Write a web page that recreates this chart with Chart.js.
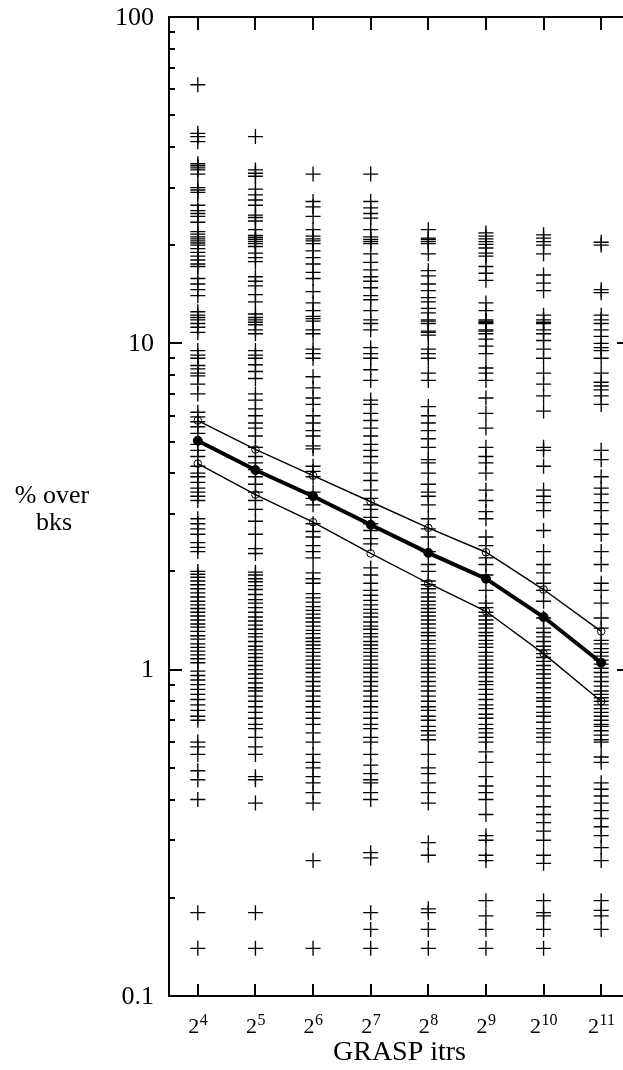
<!DOCTYPE html>
<html>
<head>
<meta charset="utf-8">
<script src="https://cdn.jsdelivr.net/npm/chart.js@4.4.0/dist/chart.umd.min.js"></script>
<style>
  html, body { margin: 0; padding: 0; background: #fff; overflow: hidden; }
  canvas { display: block; }
</style>
</head>
<body>
<canvas id="grasp" width="640" height="1070"></canvas>
<script>
// GRASP iterations (as powers of two) and the % over best known solution
var exponents = [4, 5, 6, 7, 8, 9, 10, 11];
var meanGap  = [5.03, 4.09, 3.40, 2.78, 2.28, 1.90, 1.45, 1.05];
var upperGap = [5.80, 4.73, 3.93, 3.27, 2.72, 2.29, 1.76, 1.31];
var lowerGap = [4.28, 3.44, 2.83, 2.27, 1.84, 1.51, 1.12, 0.80];
var yTickLabels = [0.1, 1, 10, 100];

// one run per '+' mark, per column
var runs4 = [62, 44, 43, 41.5, 35.5, 35, 34.5, 34, 33, 30, 29.5, 29, 26.5, 25.5, 25, 24.5, 23.5,
  22, 21.6, 21.2, 20.9, 20.6, 20.3, 20, 19.5, 19, 18.5, 18, 17.5, 17.2, 15.8, 15.2, 14.6, 14,
  12.5, 12.2, 12, 11.8, 11.5, 11.2, 10.8, 9.5, 9.2, 9.0, 8.55, 8.35, 8.1, 7.95, 7.5, 7.0,
  6.15, 5.95, 5.75, 5.55, 5.3, 4.9, 4.7, 4.5, 4.2, 4.0, 3.9, 3.75, 3.6, 3.5, 3.4, 3.3,
  2.9, 2.8, 2.7, 2.6, 2.45, 2.37, 2.3, 2.0, 1.96, 1.92, 1.87, 1.82, 1.77, 1.72, 1.67, 1.62,
  1.58, 1.54, 1.5, 1.46, 1.42, 1.38, 1.35, 1.31, 1.27, 1.24, 1.2, 1.17, 1.14, 1.11, 1.08, 1.05,
  0.99, 0.96, 0.93, 0.9, 0.87, 0.84, 0.81, 0.78, 0.75, 0.72, 0.7, 0.6, 0.58, 0.55, 0.49, 0.46,
  0.4, 0.18, 0.14];
var runs5 = [43, 34, 33.2, 32.5, 29.7, 28.5, 27.5, 26.5, 24.7, 24.3, 23.7, 22.3, 21.4, 21.1, 20.8,
  20.5, 20.2, 19.8, 18.9, 18.3, 17.8, 16, 15.5, 15, 14.1, 13.4, 12.3, 12, 11.8, 11.6, 11.4, 11.0,
  10.7, 9.5, 9.2, 9.0, 8.6, 8.2, 7.8, 7.0, 6.7, 6.3, 6.0, 5.7, 5.5, 5.2, 4.8, 4.5, 4.3, 4.1,
  3.9, 3.7, 3.5, 3.3, 3.1, 2.85, 2.6, 2.35, 2.27, 1.99, 1.95, 1.9, 1.86, 1.81, 1.76, 1.7, 1.64,
  1.6, 1.55, 1.5, 1.45, 1.41, 1.37, 1.33, 1.29, 1.26, 1.22, 1.18, 1.15, 1.12, 1.09, 1.06, 1.03,
  1.0, 0.97, 0.94, 0.91, 0.88, 0.86, 0.83, 0.8, 0.77, 0.74, 0.71, 0.68, 0.66, 0.62, 0.58, 0.55,
  0.47, 0.46, 0.39, 0.18, 0.14];
var runs6 = [33, 27.2, 26.2, 24.5, 22.3, 21.3, 20.9, 20.6, 20.2, 19.2, 18.3, 17.5, 16.5, 15.8,
  14.4, 13.3, 12.6, 12.1, 11.9, 11.7, 11.0, 10.7, 9.6, 9.3, 9.0, 7.9, 7.3, 6.8, 6.5, 6.0, 5.7,
  5.4, 5.2, 4.85, 4.75, 4.2, 4.05, 3.9, 3.5, 3.35, 3.2, 2.8, 2.65, 2.55, 2.4, 2.3, 2.2, 1.98,
  1.9, 1.84, 1.71, 1.66, 1.61, 1.56, 1.52, 1.48, 1.44, 1.4, 1.36, 1.32, 1.29, 1.25, 1.22, 1.19,
  1.16, 1.13, 1.1, 1.07, 1.04, 1.01, 0.98, 0.95, 0.92, 0.89, 0.86, 0.83, 0.8, 0.77, 0.74, 0.71,
  0.68, 0.64, 0.6, 0.55, 0.52, 0.5, 0.47, 0.45, 0.42, 0.39, 0.26, 0.14];
var runs7 = [33, 27.2, 26, 25, 24.2, 22.3, 21.2, 20.8, 20.5, 20.2, 18.8, 17.7, 16.8, 16, 15.5,
  14.8, 14, 13.6, 12.6, 11.8, 11.5, 11, 9.7, 9.3, 9.0, 8.3, 7.7, 6.7, 6.5, 6.1, 5.8, 5.5, 5.2,
  4.9, 4.7, 4.5, 4.3, 4.0, 3.8, 3.55, 3.35, 3.2, 3.1, 2.93, 2.8, 2.67, 2.52, 2.43, 2.05, 1.95,
  1.84, 1.75, 1.69, 1.63, 1.58, 1.53, 1.49, 1.45, 1.4, 1.36, 1.33, 1.29, 1.26, 1.22, 1.19, 1.16,
  1.13, 1.1, 1.07, 1.04, 1.01, 0.98, 0.95, 0.92, 0.89, 0.86, 0.83, 0.8, 0.77, 0.74, 0.71, 0.68,
  0.66, 0.62, 0.6, 0.55, 0.51, 0.48, 0.46, 0.45, 0.42, 0.4, 0.275, 0.265, 0.18, 0.16, 0.14];
var runs8 = [22.3, 21.0, 20.8, 20.5, 20.2, 18.8, 16.7, 16.1, 15.2, 14.5, 13.8, 13.4, 12.8, 12.4,
  11.8, 11.7, 11.5, 10.9, 10.8, 10.6, 9.6, 9.3, 9.0, 8.1, 7.7, 6.4, 6.0, 5.7, 5.4, 5.1, 4.8,
  4.4, 4.3, 4.0, 3.7, 3.5, 3.4, 3.2, 2.9, 2.7, 2.55, 2.3, 2.1, 2.0, 1.87, 1.82, 1.77, 1.72,
  1.67, 1.62, 1.58, 1.54, 1.5, 1.46, 1.42, 1.38, 1.34, 1.3, 1.27, 1.23, 1.2, 1.16, 1.13, 1.1,
  1.07, 1.04, 1.01, 0.98, 0.95, 0.92, 0.89, 0.86, 0.83, 0.8, 0.77, 0.75, 0.72, 0.7, 0.67, 0.65,
  0.63, 0.61, 0.55, 0.5, 0.48, 0.45, 0.42, 0.39, 0.295, 0.27, 0.185, 0.18, 0.16, 0.14];
var runs9 = [21.8, 21.3, 20.9, 20.5, 20.1, 19.6, 18.9, 18.5, 17.2, 16.4, 15.6, 13.3, 12.6, 11.8,
  11.7, 11.6, 11.5, 11.0, 10.9, 10.7, 10.3, 9.8, 9.3, 8.4, 8.1, 7.7, 6.8, 6.1, 5.5, 4.8, 4.5,
  4.3, 4.0, 3.55, 3.3, 3.05, 2.9, 2.55, 2.4, 2.2, 2.1, 1.95, 1.75, 1.6, 1.55, 1.5, 1.46, 1.42,
  1.38, 1.34, 1.3, 1.27, 1.23, 1.2, 1.17, 1.13, 1.1, 1.07, 1.04, 1.01, 0.98, 0.95, 0.92, 0.9,
  0.87, 0.84, 0.81, 0.78, 0.76, 0.73, 0.71, 0.68, 0.66, 0.64, 0.62, 0.6, 0.56, 0.52, 0.47, 0.44,
  0.42, 0.4, 0.36, 0.31, 0.3, 0.27, 0.26, 0.196, 0.176, 0.16, 0.14];
var runs10 = [21.5, 21.0, 20.5, 20.0, 18.8, 16.2, 15.3, 14.5, 12.2, 11.8, 11.6, 11.5, 11.0, 10.7,
  10.2, 9.6, 9.0, 8.1, 7.5, 6.9, 6.2, 4.8, 4.7, 4.2, 3.55, 3.4, 3.25, 3.07, 2.67, 2.3, 2.1,
  1.98, 1.84, 1.75, 1.62, 1.44, 1.34, 1.3, 1.26, 1.22, 1.18, 1.15, 1.12, 1.09, 1.06, 1.03, 1.0,
  0.97, 0.94, 0.91, 0.88, 0.85, 0.82, 0.8, 0.77, 0.74, 0.72, 0.69, 0.66, 0.64, 0.62, 0.6, 0.55,
  0.52, 0.47, 0.44, 0.41, 0.38, 0.36, 0.34, 0.32, 0.3, 0.27, 0.255, 0.196, 0.18, 0.176, 0.16, 0.14];
var runs11 = [20.4, 20.0, 14.6, 14.3, 12.2, 11.8, 11.5, 11.0, 10.5, 10.0, 9.7, 9.5, 9.0, 8.1, 7.6,
  7.4, 7.2, 6.9, 6.5, 4.7, 4.4, 3.9, 3.6, 3.45, 3.25, 3.07, 2.8, 2.6, 2.3, 2.1, 1.84, 1.75, 1.6,
  1.44, 1.34, 1.23, 1.2, 1.16, 1.13, 1.1, 1.07, 1.04, 1.01, 0.98, 0.95, 0.92, 0.89, 0.86, 0.84,
  0.82, 0.8, 0.78, 0.76, 0.74, 0.72, 0.7, 0.68, 0.67, 0.65, 0.63, 0.61, 0.6, 0.54, 0.52, 0.45,
  0.43, 0.41, 0.39, 0.37, 0.35, 0.33, 0.31, 0.285, 0.26, 0.196, 0.183, 0.176, 0.16];

var columns = [runs4, runs5, runs6, runs7, runs8, runs9, runs10, runs11];

var crossPoints = [];
columns.forEach(function (vals, i) {
  vals.forEach(function (v) {
    crossPoints.push({ x: exponents[i], y: v });
  });
});

function pairUp(values) {
  return exponents.map(function (e, i) { return { x: e, y: values[i] }; });
}

var SERIF = '"Liberation Serif", "DejaVu Serif", serif';

// frame with inward ticks, tick labels and axis titles
var framePlugin = {
  id: 'frame',
  afterDraw: function (chart) {
    var ctx = chart.ctx;
    var a = chart.chartArea;
    var xs = chart.scales.x;
    var ys = chart.scales.y;

    ctx.save();
    ctx.strokeStyle = '#000';
    ctx.lineWidth = 2;
    ctx.strokeRect(a.left, a.top, a.right - a.left, a.bottom - a.top);

    ctx.beginPath();
    [0.1, 1, 10].forEach(function (d) {
      for (var m = 1; m <= 10; m++) {
        var v = d * m;
        var y = Math.round(ys.getPixelForValue(v));
        var len = (m === 1 || m === 10) ? 13 : 6;
        ctx.moveTo(a.left, y);
        ctx.lineTo(a.left + len, y);
      }
    });
    yTickLabels.forEach(function (v) {
      var y = Math.round(ys.getPixelForValue(v));
      ctx.moveTo(a.right, y);
      ctx.lineTo(a.right - 13, y);
    });
    exponents.forEach(function (e) {
      var x = Math.round(xs.getPixelForValue(e));
      ctx.moveTo(x, a.bottom);
      ctx.lineTo(x, a.bottom - 12);
      ctx.moveTo(x, a.top);
      ctx.lineTo(x, a.top + 13);
    });
    ctx.stroke();

    ctx.fillStyle = '#000';
    ctx.font = '26px ' + SERIF;
    ctx.textAlign = 'right';
    ctx.textBaseline = 'middle';
    yTickLabels.forEach(function (v) {
      ctx.fillText(String(v), a.left - 15, ys.getPixelForValue(v) + 1);
    });

    ctx.textBaseline = 'alphabetic';
    ctx.textAlign = 'left';
    exponents.forEach(function (e) {
      var x = xs.getPixelForValue(e);
      var sup = String(e);
      ctx.font = '22px ' + SERIF;
      var wb = ctx.measureText('2').width;
      ctx.font = '16px ' + SERIF;
      var ws = ctx.measureText(sup).width;
      var x0 = x - (wb + ws) / 2;
      ctx.font = '22px ' + SERIF;
      ctx.fillText('2', x0, 1033);
      ctx.font = '16px ' + SERIF;
      ctx.fillText(sup, x0 + wb + 0.5, 1025);
    });

    ctx.textAlign = 'center';
    ctx.font = '28px ' + SERIF;
    ctx.fillText('GRASP itrs', (a.left + a.right) / 2, 1060);
    ctx.font = '26px ' + SERIF;
    ctx.fillText('% over', 52, 503);
    ctx.fillText('bks', 54, 530);
    ctx.restore();
  }
};

new Chart(document.getElementById('grasp'), {
  type: 'scatter',
  data: {
    datasets: [
      {
        label: 'mean',
        data: pairUp(meanGap),
        showLine: true,
        borderColor: '#000',
        borderWidth: 4,
        backgroundColor: '#000',
        pointRadius: 4.5,
        pointBorderWidth: 1,
        order: 0
      },
      {
        label: 'upper',
        data: pairUp(upperGap),
        showLine: true,
        borderColor: '#000',
        borderWidth: 1.4,
        backgroundColor: 'rgba(0,0,0,0)',
        pointRadius: 3.8,
        pointBorderWidth: 1,
        order: 0
      },
      {
        label: 'lower',
        data: pairUp(lowerGap),
        showLine: true,
        borderColor: '#000',
        borderWidth: 1.4,
        backgroundColor: 'rgba(0,0,0,0)',
        pointRadius: 3.8,
        pointBorderWidth: 1,
        order: 0
      },
      {
        label: 'runs',
        data: crossPoints,
        pointStyle: 'cross',
        pointRadius: 7.5,
        borderColor: '#000',
        pointBorderWidth: 1.35,
        order: 1
      }
    ]
  },
  options: {
    responsive: false,
    animation: false,
    devicePixelRatio: 1,
    layout: { padding: { left: 169, top: 17, right: 10, bottom: 74 } },
    scales: {
      x: { type: 'linear', min: 3.5, max: 11.5, display: false },
      y: { type: 'logarithmic', min: 0.1, max: 100, display: false }
    },
    plugins: {
      legend: { display: false },
      tooltip: { enabled: false }
    }
  },
  plugins: [framePlugin]
});
</script>
</body>
</html>
